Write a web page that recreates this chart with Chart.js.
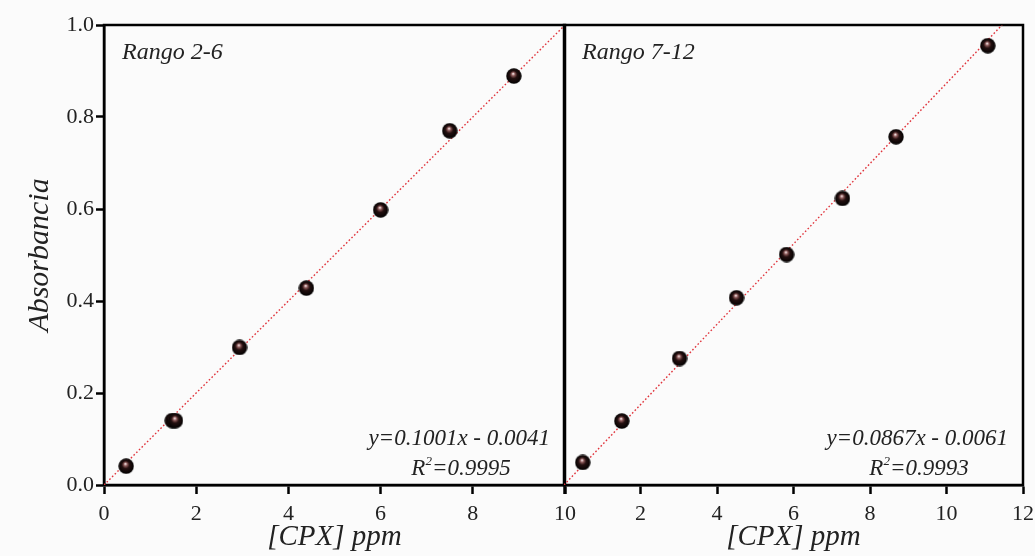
<!DOCTYPE html>
<html><head><meta charset="utf-8">
<script src="https://cdn.jsdelivr.net/npm/chart.js@4"></script>
<style>
html,body{margin:0;padding:0;background:#fbfbfb;overflow:hidden;}
#wrap{position:relative;width:1035px;height:556px;overflow:hidden;}
#c1{position:absolute;left:0;top:0;}
#c2{position:absolute;left:500px;top:0;}
</style></head><body>
<div id="wrap"><canvas id="c1" width="600" height="556"></canvas><canvas id="c2" width="560" height="556"></canvas></div>
<script>
// ---- data ----
const xTitle = '[CPX] ppm';
const yTitle = 'Absorbancia';
const leftLabel = 'Rango 2-6';
const rightLabel = 'Rango 7-12';
const leftConc = [0.48, 1.48, 1.55, 2.94, 4.39, 6.0, 7.5, 8.89];
const leftAbs  = [0.041, 0.140, 0.140, 0.299, 0.428, 0.598, 0.770, 0.889];
const rightConc = [0.49, 1.51, 3.02, 4.51, 5.82, 7.28, 8.68, 11.08];
const rightAbs  = [0.049, 0.139, 0.275, 0.407, 0.501, 0.623, 0.757, 0.955];
const leftFitX = [0, 10];
const leftFitY = [0, 1.0];
const rightFitX = [0, 11.45];
const rightFitY = [0, 1.0];
const leftEq = 'y=0.1001x - 0.0041';
const leftR2 = '=0.9995';
const rightEq = 'y=0.0867x - 0.0061';
const rightR2 = '=0.9993';
const leftXMax = 10, rightXMax = 12, xStep = 2;
const yMin = 0, yMax = 1.0, yStep = 0.2;

// ---- styling ----
const FONT = "'Liberation Serif', 'Times New Roman', serif";
const TXT = '#222222';

function sphere(d){
  const c = document.createElement('canvas'); c.width = c.height = d;
  const g = c.getContext('2d'); const r = d/2;
  const gr = g.createRadialGradient(r*0.9, r*0.7, 0.3, r, r, r);
  gr.addColorStop(0, '#f6e8e8');
  gr.addColorStop(0.2, '#8a5656');
  gr.addColorStop(0.45, '#241010');
  gr.addColorStop(1, '#000');
  g.fillStyle = gr; g.beginPath(); g.arc(r, r, r-0.3, 0, Math.PI*2); g.fill();
  return c;
}
const ball = sphere(16);

function pts(xs, ys){ return xs.map((x,i)=>({x:x, y:ys[i]})); }

const framePlugin = {
  id:'frame',
  beforeDatasetsDraw(chart){
    const {ctx, chartArea:a} = chart;
    ctx.save(); ctx.strokeStyle = '#000'; ctx.lineWidth = 2.5;
    ctx.strokeRect(a.left, a.top, a.right-a.left, a.bottom-a.top);
    ctx.restore();
  }
};

function textPlugin(label, eq, r2){
  return {
    id:'texts',
    afterDatasetsDraw(chart){
      const {ctx, chartArea:a} = chart;
      ctx.save();
      ctx.fillStyle = TXT;
      ctx.textBaseline = 'alphabetic';
      ctx.font = "italic 24px " + FONT;
      ctx.textAlign = 'left';
      ctx.fillText(label, a.left + 18, a.top + 34);
      ctx.font = "italic 23px " + FONT;
      ctx.textAlign = 'right';
      ctx.fillText(eq, a.right - 15, a.bottom - 40);
      // R^2 line, centred
      const wR = ctx.measureText('R').width;
      ctx.font = "italic 13px " + FONT;
      const w2 = ctx.measureText('2').width;
      ctx.font = "italic 23px " + FONT;
      const wRest = ctx.measureText(r2).width;
      const total = wR + w2 + wRest;
      const cx = a.right - 104;
      let x = cx - total/2;
      const yb = a.bottom - 10;
      ctx.textAlign = 'left';
      ctx.fillText('R', x, yb); x += wR;
      ctx.font = "italic 13px " + FONT;
      ctx.fillText('2', x, yb - 10); x += w2;
      ctx.font = "italic 23px " + FONT;
      ctx.fillText(r2, x, yb);
      ctx.restore();
    }
  };
}

function xScale(max, hideZero){
  return {
    type:'linear', position:'bottom', min:0, max:max,
    ticks:{stepSize:xStep, color:TXT, font:{family:FONT, size:22}, padding:7, maxRotation:0,
      callback:(v)=> (hideZero && v===0) ? '' : String(v)},
    grid:{display:true, drawOnChartArea:false, drawTicks:true, tickLength:9, tickWidth:2.5, tickColor:'#000'},
    border:{display:true, color:'#000', width:2.5},
    title:{display:true, text:xTitle, color:TXT, font:{family:FONT, size:29, style:'italic'}, padding:{top:0, bottom:1}},
    afterFit(s){ s.height = 71; }
  };
}

function datasets(cx, cy, fx, fy){
  return [
    {label:'data', data:pts(cx, cy), showLine:false, pointStyle:ball, pointRadius:8, pointHoverRadius:8, clip:false},
    {label:'fit', data:pts(fx, fy), showLine:true, borderColor:'#e0343c', borderWidth:1.4, borderDash:[1.6,2.2], pointRadius:0, pointHoverRadius:0, fill:false}
  ];
}

new Chart(document.getElementById('c1'), {
  type:'scatter',
  data:{datasets:datasets(leftConc, leftAbs, leftFitX, leftFitY)},
  options:{
    responsive:false, animation:false,
    layout:{padding:{left:0, right:35, top:25, bottom:0}},
    plugins:{legend:{display:false}, tooltip:{enabled:false}},
    scales:{
      x:xScale(leftXMax, false),
      y:{
        type:'linear', min:yMin, max:yMax,
        ticks:{stepSize:yStep, color:TXT, font:{family:FONT, size:22}, padding:2,
          callback:(v)=> Number(v).toFixed(1)},
        grid:{display:true, drawOnChartArea:false, drawTicks:true, tickLength:8, tickWidth:2.5, tickColor:'#000'},
        border:{display:true, color:'#000', width:2.5},
        title:{display:true, text:yTitle, color:TXT, font:{family:FONT, size:30, style:'italic'}, padding:{top:22, bottom:0}},
        afterFit(s){ s.width = 104; }
      }
    }
  },
  plugins:[framePlugin, textPlugin(leftLabel, leftEq, leftR2)]
});

new Chart(document.getElementById('c2'), {
  type:'scatter',
  data:{datasets:datasets(rightConc, rightAbs, rightFitX, rightFitY)},
  options:{
    responsive:false, animation:false,
    layout:{padding:{left:64, right:37, top:25, bottom:0}},
    plugins:{legend:{display:false}, tooltip:{enabled:false}},
    scales:{
      x:xScale(rightXMax, true),
      y:{type:'linear', min:yMin, max:yMax, display:false}
    }
  },
  plugins:[framePlugin, textPlugin(rightLabel, rightEq, rightR2)]
});
</script>
</body></html>
